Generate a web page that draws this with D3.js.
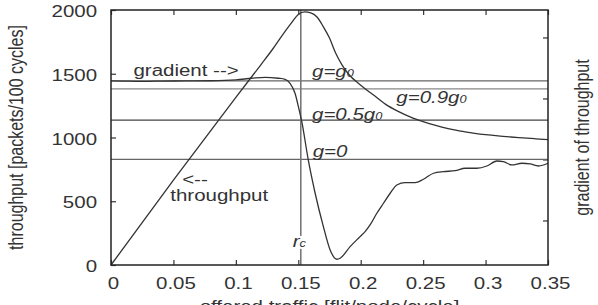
<!DOCTYPE html>
<html>
<head>
<meta charset="utf-8">
<script src="https://cdn.jsdelivr.net/npm/d3@7"></script>
<style>
  body { margin: 0; background: #fff; }
  svg { display: block; }
</style>
</head>
<body>
<div id="chart"></div>
<script>
// throughput and gradient of throughput vs offered traffic
const xTicks = [0, 0.05, 0.1, 0.15, 0.2, 0.25, 0.3, 0.35];
const yTicks = [0, 500, 1000, 1500, 2000];
const gradTicks = [-10000, 0, 10000, 20000];

// throughput curve (left axis)
const thrX = [0, 0.05, 0.1, 0.12, 0.13, 0.14, 0.145, 0.15, 0.155, 0.16, 0.165, 0.17, 0.175, 0.18, 0.185, 0.19,
  0.2, 0.21, 0.22, 0.23, 0.24, 0.25, 0.26, 0.27, 0.28, 0.29, 0.3, 0.31, 0.32, 0.33, 0.34, 0.35];
const thrY = [0, 665, 1315, 1570, 1700, 1840, 1905, 1965, 1985, 1978, 1945, 1870, 1780, 1660, 1570, 1500,
  1410, 1335, 1260, 1205, 1160, 1125, 1095, 1070, 1050, 1035, 1022, 1012, 1004, 997, 990, 983];

// gradient curve (right axis)
const gradX = [0, 0.01, 0.02, 0.03, 0.04, 0.06, 0.08, 0.1, 0.1127, 0.1234, 0.134, 0.1394, 0.1434, 0.1474,
  0.1501, 0.1528, 0.158, 0.1635, 0.1701, 0.1755, 0.1809, 0.1835, 0.1915, 0.1995, 0.2035, 0.2075, 0.2129,
  0.2182, 0.2236, 0.2289, 0.2356, 0.2436, 0.2502, 0.2583, 0.2663, 0.2756, 0.2837, 0.293, 0.301, 0.309,
  0.3143, 0.3211, 0.3291, 0.3357, 0.3424, 0.35];
const gradY = [12870, 12850, 12800, 12800, 12850, 12870, 12900, 13050, 13310, 13470, 13310, 13145, 12490, 10850,
  8650, 6200, -80, -5540, -11010, -14830, -16360, -16190, -14290, -12650, -11830, -10740, -8820,
  -7180, -5540, -4180, -3800, -3800, -3250, -2260, -2000, -1840, -1440, -1440, -1070, -250,
  -360, -900, -620, -740, -1070, -620];

const g0 = 12870;
const gLevels = [1, 0.9, 0.5, 0];
const gLabelMain = ['g=g', 'g=0.9g', 'g=0.5g', 'g=0'];
const gLabelSub = ['0', '0', '0', ''];
const rc = 0.152;

const W = 598, H = 305;
const mLeft = 111, mRight = 548, mTop = 10, mBottom = 265;
const SX = 1.28; // the original figure is stretched sideways
const FONT = '"Liberation Sans", Arial, Helvetica, sans-serif';
const INK = '#333';

const svg = d3.select('#chart').append('svg')
  .attr('width', W)
  .attr('height', H);
svg.append('rect').attr('width', W).attr('height', H).attr('fill', '#fff');

const x = d3.scaleLinear().domain([0, 0.35]).range([mLeft, mRight]);
const y = d3.scaleLinear().domain([0, 2000]).range([mBottom, mTop]);
const yG = d3.scaleLinear().domain([-17300, 24500]).range([mBottom, mTop]);

function styleTicks(g) {
  g.select('.domain').remove();
  g.selectAll('line').attr('stroke', INK).attr('stroke-width', 1.2);
}

// left axis
svg.append('g')
  .attr('transform', `translate(${mLeft},0)`)
  .call(d3.axisLeft(y).tickValues(yTicks).tickFormat(d3.format('d')).tickSizeInner(-5).tickSizeOuter(0))
  .call(styleTicks)
  .call(g => g.selectAll('text')
    .attr('x', -14 / SX).attr('dy', '0.42em')
    .attr('transform', `scale(${SX},1)`)
    .attr('font-family', FONT).attr('font-size', 16).attr('fill', INK));

// bottom axis
const fmtX = d => d === 0 ? '0' : String(+d.toFixed(2));
svg.append('g')
  .attr('transform', `translate(0,${mBottom})`)
  .call(d3.axisBottom(x).tickValues(xTicks).tickFormat(fmtX).tickSizeInner(-5).tickSizeOuter(0))
  .call(styleTicks)
  .call(g => g.selectAll('text')
    .attr('x', 2 / SX).attr('y', 24).attr('dy', 0)
    .attr('transform', `scale(${SX},1)`)
    .attr('font-family', FONT).attr('font-size', 16).attr('fill', INK));

// top mirror ticks
svg.append('g')
  .attr('transform', `translate(0,${mTop})`)
  .call(d3.axisTop(x).tickValues(xTicks).tickFormat('').tickSizeInner(-5).tickSizeOuter(0))
  .call(styleTicks);

// right axis (gradient, no labels)
svg.append('g')
  .attr('transform', `translate(${mRight},0)`)
  .call(d3.axisRight(yG).tickValues(gradTicks).tickFormat('').tickSizeInner(-5).tickSizeOuter(0))
  .call(styleTicks);

// reference levels of the gradient
const levelColor = ['#666', '#888', '#444', '#666'];
svg.append('g').selectAll('line')
  .data(gLevels)
  .enter()
  .append('line')
  .attr('x1', x(0)).attr('x2', x(0.35))
  .attr('y1', d => yG(d * g0)).attr('y2', d => yG(d * g0))
  .attr('stroke', (d, i) => levelColor[i])
  .attr('stroke-width', 1.3);

// saturation point
svg.append('line')
  .attr('x1', x(rc)).attr('x2', x(rc))
  .attr('y1', y(0)).attr('y2', y(2000))
  .attr('stroke', '#777')
  .attr('stroke-width', 1.6);

// curves
const thrLine = d3.line()
  .x(i => x(thrX[i]))
  .y(i => y(thrY[i]))
  .curve(d3.curveMonotoneX);
const gradLine = d3.line()
  .x(i => x(gradX[i]))
  .y(i => yG(gradY[i]))
  .curve(d3.curveMonotoneX);

svg.append('path')
  .attr('d', thrLine(d3.range(thrX.length)))
  .attr('fill', 'none').attr('stroke', INK).attr('stroke-width', 1.3);
svg.append('path')
  .attr('d', gradLine(d3.range(gradX.length)))
  .attr('fill', 'none').attr('stroke', INK).attr('stroke-width', 1.3);

// frame
svg.append('rect')
  .attr('x', mLeft).attr('y', mTop)
  .attr('width', mRight - mLeft).attr('height', mBottom - mTop)
  .attr('fill', 'none').attr('stroke', '#222').attr('stroke-width', 1.5);

// text helper: parts = [{t, sub}]
function label(px, py, parts, opt = {}) {
  const t = svg.append('text')
    .attr('transform', `translate(${px},${py}) scale(${SX},1)` + (opt.rotate ? ' rotate(-90)' : ''))
    .attr('font-family', FONT)
    .attr('font-size', 16)
    .attr('fill', INK)
    .attr('font-style', opt.italic ? 'italic' : null)
    .attr('text-anchor', opt.anchor || 'start');
  parts.forEach(p => {
    const s = t.append('tspan').text(p.t);
    if (p.sub) s.attr('font-size', 10);
  });
  return t;
}

// level labels
const gLabelPos = [[0.161, -4], [0.2285, 14], [0.161, -0.5], [0.1615, -2.5]];
gLevels.forEach((lv, i) => {
  const parts = [{ t: gLabelMain[i] }];
  if (gLabelSub[i]) parts.push({ t: gLabelSub[i], sub: true });
  label(x(gLabelPos[i][0]), yG(lv * g0) + gLabelPos[i][1], parts, { italic: true });
});

label(x(0.018), yG(g0) - 5, [{ t: 'gradient -->' }]);
label(x(0.057), y(625), [{ t: '<--' }]);
label(x(0.0475), y(500), [{ t: 'throughput' }]);
label(x(0.1455), y(140), [{ t: 'r' }, { t: 'c', sub: true }], { italic: true })
  .attr('stroke', '#fff').attr('stroke-width', 4).attr('paint-order', 'stroke');

// axis titles
label((mLeft + mRight) / 2, 312, [{ t: 'offered traffic [flit/node/cycle]' }], { anchor: 'middle' });
label(22.7, (mTop + mBottom) / 2, [{ t: 'throughput [packets/100 cycles]' }], { anchor: 'middle', rotate: true });
label(588.5, (mTop + mBottom) / 2, [{ t: 'gradient of throughput' }], { anchor: 'middle', rotate: true });
</script>
</body>
</html>
